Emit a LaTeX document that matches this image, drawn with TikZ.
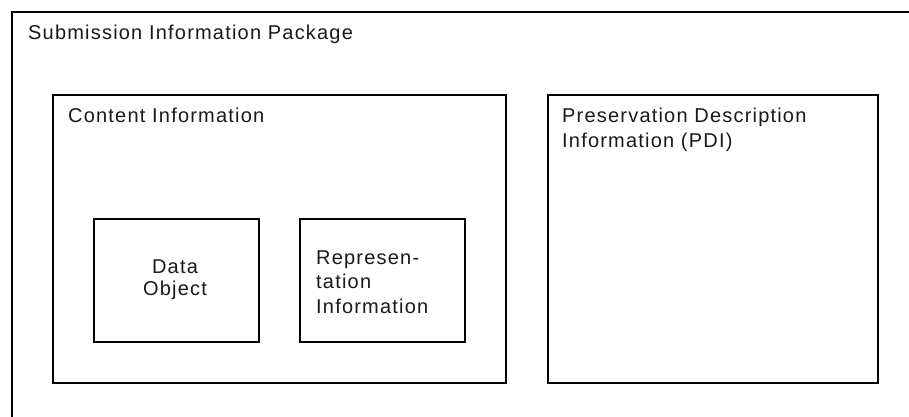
\documentclass[tikz,border=0pt]{standalone}
\usepackage{fontspec}
\setmainfont{Liberation Sans}[LetterSpace=6]
\begin{document}
\begin{tikzpicture}[x=1pt,y=-1pt,
  box/.style={draw=black,line width=1.6pt,rectangle,inner sep=0pt,anchor=north west},
  lbl/.style={inner sep=0pt,anchor=base west,text=black!90,font=\fontsize{20}{24.5}\selectfont,align=left},
  clbl/.style={inner sep=0pt,anchor=base,text=black!90,font=\fontsize{20}{22}\selectfont,align=center}]
\useasboundingbox (0,0) rectangle (909,417);
\clip (0,0) rectangle (909,417);
\node[box,minimum width=930pt,minimum height=430pt] (sip) at (11,11) {};
\node[box,minimum width=453pt,minimum height=288pt] (ci) at (52,94) {};
\node[box,minimum width=330pt,minimum height=288pt] (pdi) at (547,94) {};
\node[box,minimum width=165pt,minimum height=123pt] (do) at (93,218) {};
\node[box,minimum width=165pt,minimum height=123pt] (ri) at (299,218) {};
\node[lbl] (siptxt) at (28,40) {Submission Information Package};
\node[lbl] (citxt) at (68,122) {Content Information};
\node[lbl] (pditxt) at (562,147) {Preservation Description\\Information (PDI)};
\node[clbl] (dotxt) at (175,295) {Data\\Object};
\node[lbl] (ritxt) at (316,313) {Represen-\\tation\\Information};
\end{tikzpicture}
\end{document}
